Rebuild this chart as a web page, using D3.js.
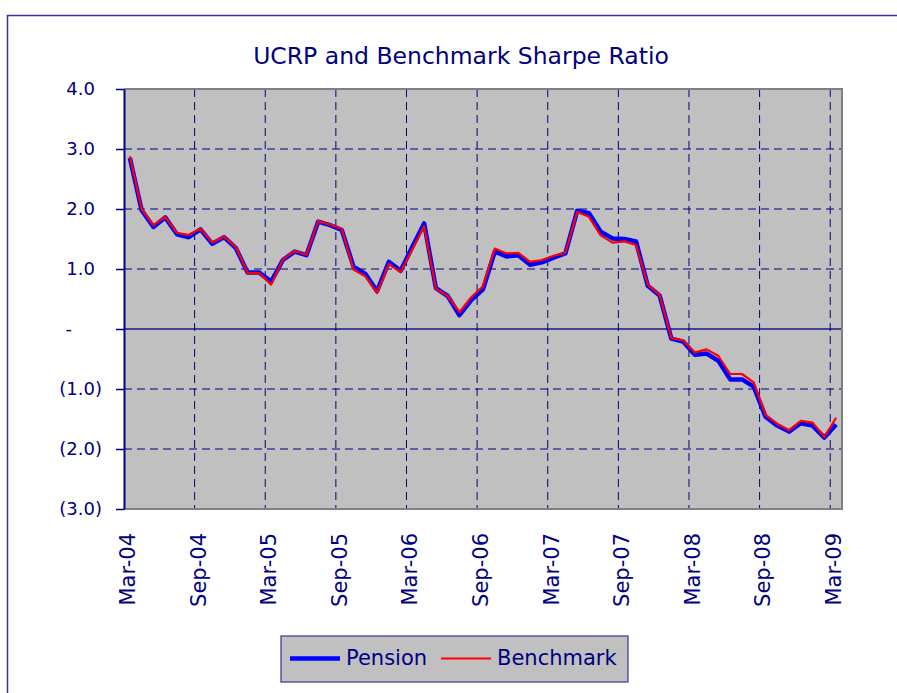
<!DOCTYPE html>
<html>
<head>
<meta charset="utf-8">
<script src="https://cdn.jsdelivr.net/npm/d3@7"></script>
<style>
  body { margin: 0; background: #fff; }
  text { font-family: "DejaVu Sans", sans-serif; fill: #000080; }
</style>
</head>
<body>
<svg width="897" height="693"></svg>
<script>
// month categories, Mar-04 .. Mar-09
const months = [
  "Mar-04","Apr-04","May-04","Jun-04","Jul-04","Aug-04","Sep-04","Oct-04","Nov-04","Dec-04",
  "Jan-05","Feb-05","Mar-05","Apr-05","May-05","Jun-05","Jul-05","Aug-05","Sep-05","Oct-05",
  "Nov-05","Dec-05","Jan-06","Feb-06","Mar-06","Apr-06","May-06","Jun-06","Jul-06","Aug-06",
  "Sep-06","Oct-06","Nov-06","Dec-06","Jan-07","Feb-07","Mar-07","Apr-07","May-07","Jun-07",
  "Jul-07","Aug-07","Sep-07","Oct-07","Nov-07","Dec-07","Jan-08","Feb-08","Mar-08","Apr-08",
  "May-08","Jun-08","Jul-08","Aug-08","Sep-08","Oct-08","Nov-08","Dec-08","Jan-09","Feb-09",
  "Mar-09"
];

const pension = [
  2.85, 1.98, 1.70, 1.86, 1.58, 1.53, 1.66, 1.42, 1.53, 1.35,
  0.94, 0.94, 0.79, 1.15, 1.29, 1.23, 1.79, 1.73, 1.65, 1.04,
  0.92, 0.63, 1.12, 0.97, 1.37, 1.76, 0.68, 0.55, 0.23, 0.48,
  0.66, 1.29, 1.21, 1.23, 1.07, 1.11, 1.19, 1.26, 1.97, 1.93,
  1.62, 1.51, 1.50, 1.46, 0.72, 0.56, -0.16, -0.21, -0.43, -0.41,
  -0.53, -0.84, -0.84, -0.96, -1.46, -1.61, -1.71, -1.57, -1.61, -1.81,
  -1.59
];

const benchmark = [
  2.88, 2.00, 1.73, 1.87, 1.60, 1.57, 1.67, 1.44, 1.54, 1.37,
  0.93, 0.93, 0.74, 1.16, 1.30, 1.24, 1.80, 1.74, 1.67, 0.99,
  0.88, 0.60, 1.08, 0.95, 1.33, 1.71, 0.67, 0.55, 0.28, 0.53,
  0.71, 1.34, 1.26, 1.27, 1.12, 1.15, 1.22, 1.27, 1.95, 1.87,
  1.56, 1.44, 1.46, 1.40, 0.74, 0.57, -0.15, -0.19, -0.39, -0.34,
  -0.45, -0.75, -0.75, -0.89, -1.43, -1.58, -1.69, -1.53, -1.56, -1.80,
  -1.48
];

const yTicks = [4, 3, 2, 1, 0, -1, -2, -3];
const yLabels = ["4.0", "3.0", "2.0", "1.0", "-", "(1.0)", "(2.0)", "(3.0)"];

const svg = d3.select("svg");
const plot = { left: 124, right: 842, top: 89, bottom: 509 };

// outer chart frame (runs off the page on the right/bottom)
svg.append("rect")
  .attr("x", 7.5).attr("y", 15.5)
  .attr("width", 920).attr("height", 720)
  .attr("fill", "#fff")
  .attr("stroke", "#333399")
  .attr("stroke-width", 1.5);

svg.append("text")
  .attr("x", 461).attr("y", 64)
  .attr("text-anchor", "middle")
  .style("font-size", "23.5px")
  .text("UCRP and Benchmark Sharpe Ratio");

const x = d3.scaleBand().domain(months).range([plot.left, plot.right]).padding(0);
const y = d3.scaleLinear().domain([-3, 4]).range([plot.bottom, plot.top]);
const cx = d => x(d) + x.bandwidth() / 2;

svg.append("rect")
  .attr("x", plot.left).attr("y", plot.top)
  .attr("width", plot.right - plot.left).attr("height", plot.bottom - plot.top)
  .attr("fill", "#c0c0c0");

// dashed gridlines
svg.append("g")
  .selectAll("line")
  .data(yTicks.filter(v => v !== 0 && v !== 4 && v !== -3))
  .join("line")
  .attr("x1", plot.left).attr("x2", plot.right)
  .attr("y1", d => y(d)).attr("y2", d => y(d))
  .attr("stroke", "#000080")
  .attr("stroke-width", 1)
  .attr("stroke-dasharray", "8,5");

const vGrid = months.filter((m, i) => i > 0 && i % 6 === 0);
svg.append("g")
  .selectAll("line")
  .data(vGrid)
  .join("line")
  .attr("x1", d => x(d)).attr("x2", d => x(d))
  .attr("y1", plot.top).attr("y2", plot.bottom)
  .attr("stroke", "#000080")
  .attr("stroke-width", 1)
  .attr("stroke-dasharray", "8,5");

// zero line
svg.append("line")
  .attr("x1", plot.left).attr("x2", plot.right)
  .attr("y1", y(0)).attr("y2", y(0))
  .attr("stroke", "#000080")
  .attr("stroke-opacity", 0.65)
  .attr("stroke-width", 2);

// plot border
svg.append("path")
  .attr("d", `M${plot.left},${plot.top}H${plot.right}V${plot.bottom}H${plot.left}`)
  .attr("fill", "none")
  .attr("stroke", "#808080")
  .attr("stroke-width", 2);

const line = d3.line()
  .x((d, i) => cx(months[i]))
  .y(d => y(d));

svg.append("path")
  .datum(pension)
  .attr("d", line)
  .attr("fill", "none")
  .attr("stroke", "#0000ff")
  .attr("stroke-width", 4.5)
  .attr("stroke-linejoin", "round");

svg.append("path")
  .datum(benchmark)
  .attr("d", line)
  .attr("fill", "none")
  .attr("stroke", "#ff0000")
  .attr("stroke-width", 2.2)
  .attr("stroke-linejoin", "round");

// y axis
const yAxis = svg.append("g")
  .attr("transform", `translate(${plot.left},0)`)
  .call(d3.axisLeft(y).tickValues(yTicks).tickSize(8).tickSizeOuter(0)
    .tickFormat((d, i) => yLabels[i]));
yAxis.select(".domain").attr("stroke", "#000080").attr("stroke-width", 2);
yAxis.selectAll(".tick line").attr("stroke", "#000080").attr("stroke-width", 1.5);
yAxis.selectAll(".tick text")
  .style("font-size", "18px")
  .attr("fill", "#000080")
  .attr("x", function(d, i) {
    const s = yLabels[i];
    if (s === "-") return -52;
    if (s.startsWith("(")) return -22;
    return -29;
  });

// x axis labels
const xAxis = svg.append("g")
  .attr("transform", `translate(0,${plot.bottom})`)
  .call(d3.axisBottom(x).tickValues(months.filter((m, i) => i % 6 === 0)).tickSize(0));
xAxis.select(".domain").remove();
xAxis.selectAll(".tick text")
  .style("font-size", "21px")
  .attr("fill", "#000080")
  .attr("transform", "rotate(-90)")
  .attr("text-anchor", "end")
  .attr("dy", null)
  .attr("x", -24)
  .attr("y", 5);

// legend
const legend = svg.append("g");
legend.append("rect")
  .attr("x", 281).attr("y", 636)
  .attr("width", 347).attr("height", 46)
  .attr("fill", "#c0c0c0")
  .attr("stroke", "#333399")
  .attr("stroke-width", 1.2);

const legendItems = [
  { name: "Pension", color: "#0000ff", width: 4.5, x: 290 },
  { name: "Benchmark", color: "#ff0000", width: 2.2, x: 441 }
];
legendItems.forEach(d => {
  legend.append("line")
    .attr("x1", d.x).attr("x2", d.x + 50)
    .attr("y1", 658.5).attr("y2", 658.5)
    .attr("stroke", d.color)
    .attr("stroke-width", d.width);
  legend.append("text")
    .attr("x", d.x + 56).attr("y", 665)
    .style("font-size", "21px")
    .text(d.name);
});
</script>
</body>
</html>
